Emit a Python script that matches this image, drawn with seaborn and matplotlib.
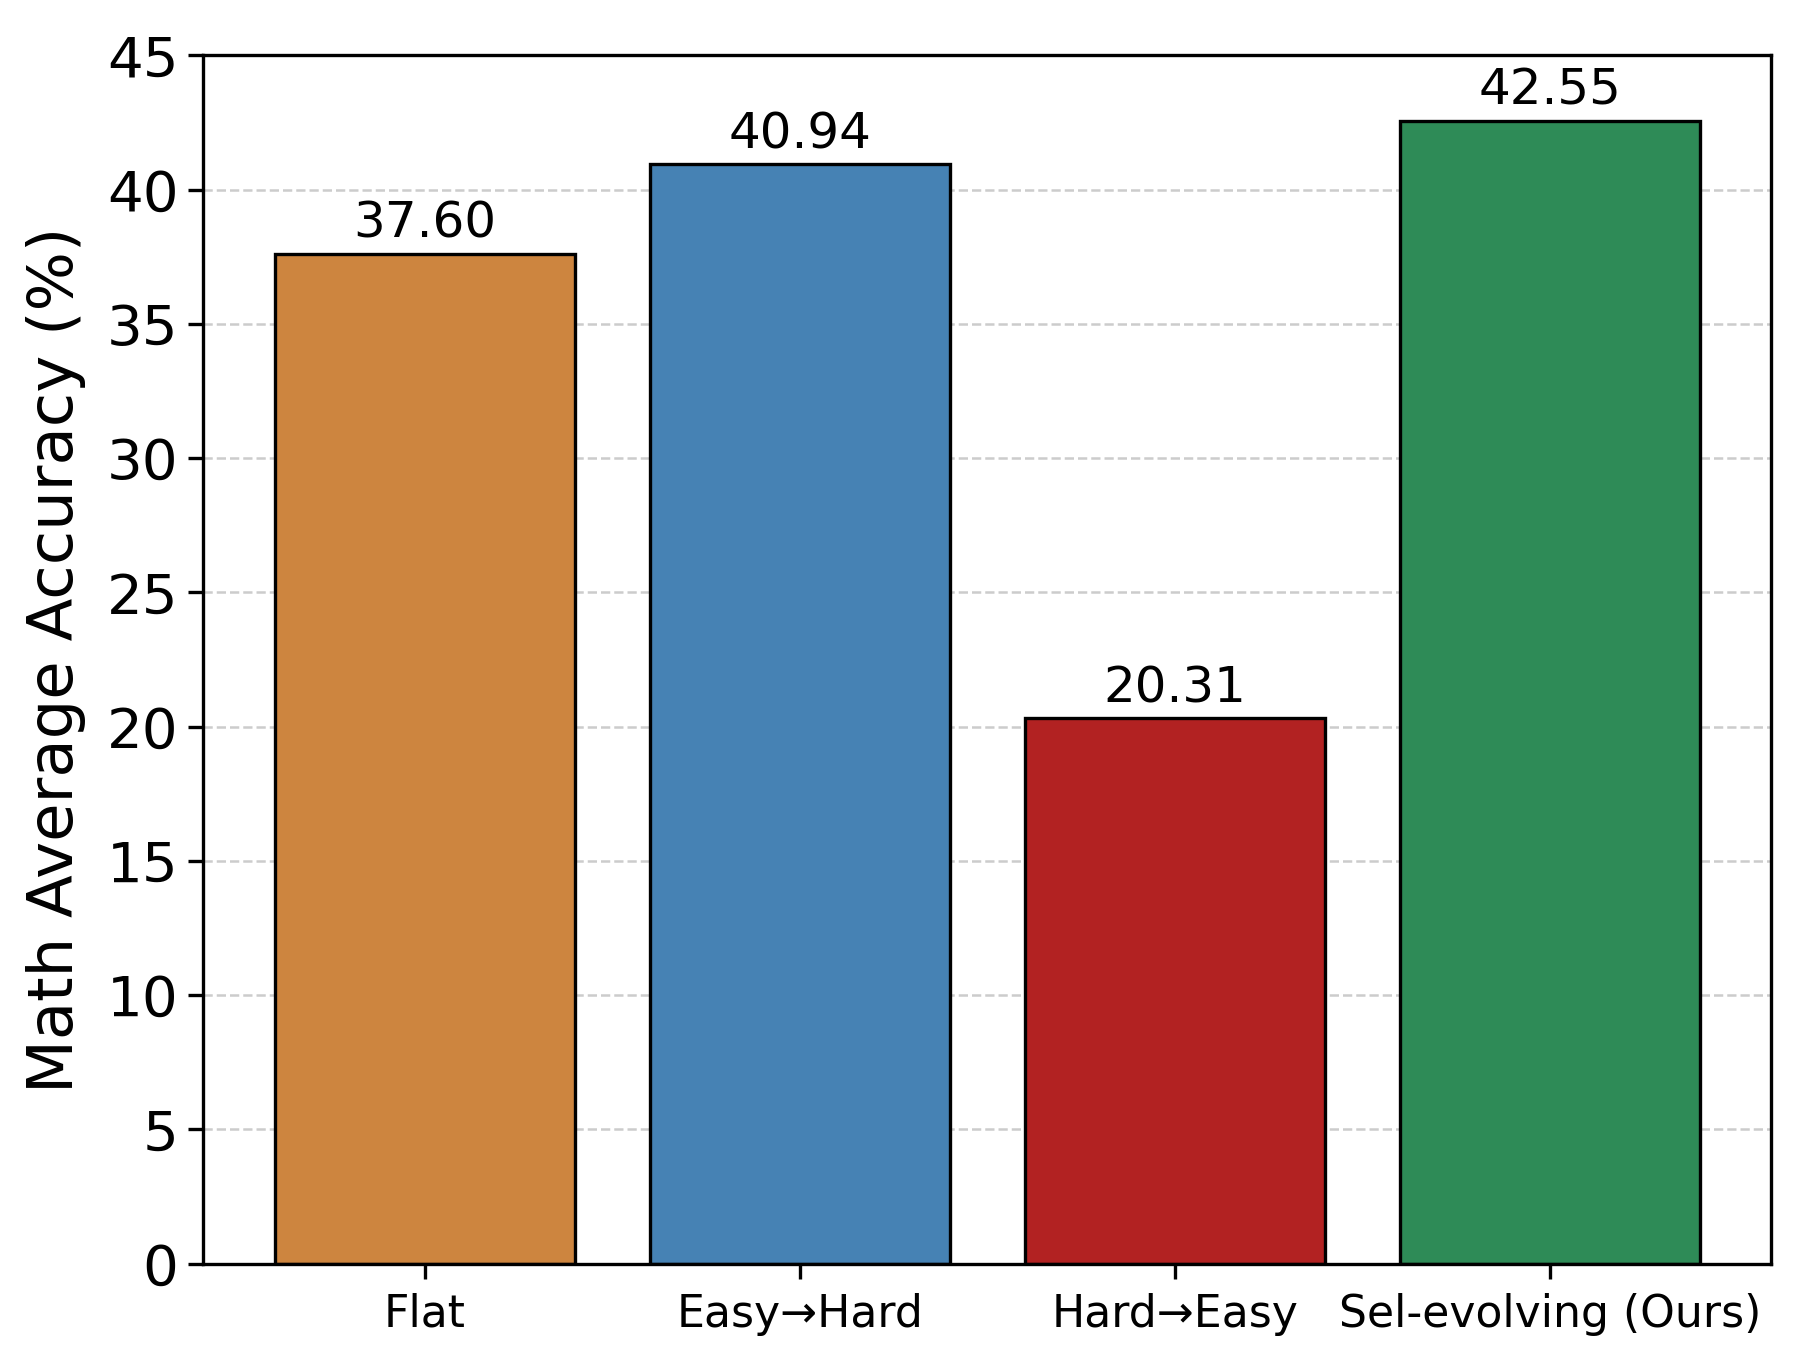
import matplotlib
matplotlib.use("Agg")
import pandas as pd
import matplotlib.pyplot as plt
import seaborn as sns

# data
methods = ["Flat", "Easy→Hard", "Hard→Easy", "Sel-evolving (Ours)"]
accuracy = [37.60, 40.94, 20.31, 42.55]
colors = ["#CD853F", "#4682B4", "#B22222", "#2E8B57"]

data = pd.DataFrame({"Method": methods, "Accuracy": accuracy})

fig, ax = plt.subplots(figsize=(6, 4.5), dpi=300)
sns.barplot(x="Method", y="Accuracy", hue="Method", data=data,
            palette=colors, saturation=1, edgecolor="black", linewidth=0.8,
            legend=False, ax=ax)

# value labels on top of the bars
for cont in ax.containers:
    ax.bar_label(cont, fmt="%.2f", padding=1.5, fontsize=12)

ax.set_xlim(-0.59, 3.59)
ax.set_ylim(0, 45)
ax.set_yticks(range(0, 46, 5))
ax.set_xlabel("")
ax.set_ylabel("Math Average Accuracy (%)", fontsize=15, labelpad=5)
ax.tick_params(axis="y", labelsize=13.5, pad=2.5)
ax.tick_params(axis="x", labelsize=10.6)
ax.grid(axis="y", linestyle="--", color="gray", alpha=0.4, linewidth=0.6)
ax.set_axisbelow(True)

plt.subplots_adjust(left=0.113, right=0.984, top=0.959, bottom=0.064)
plt.savefig("out.png", dpi=300)
